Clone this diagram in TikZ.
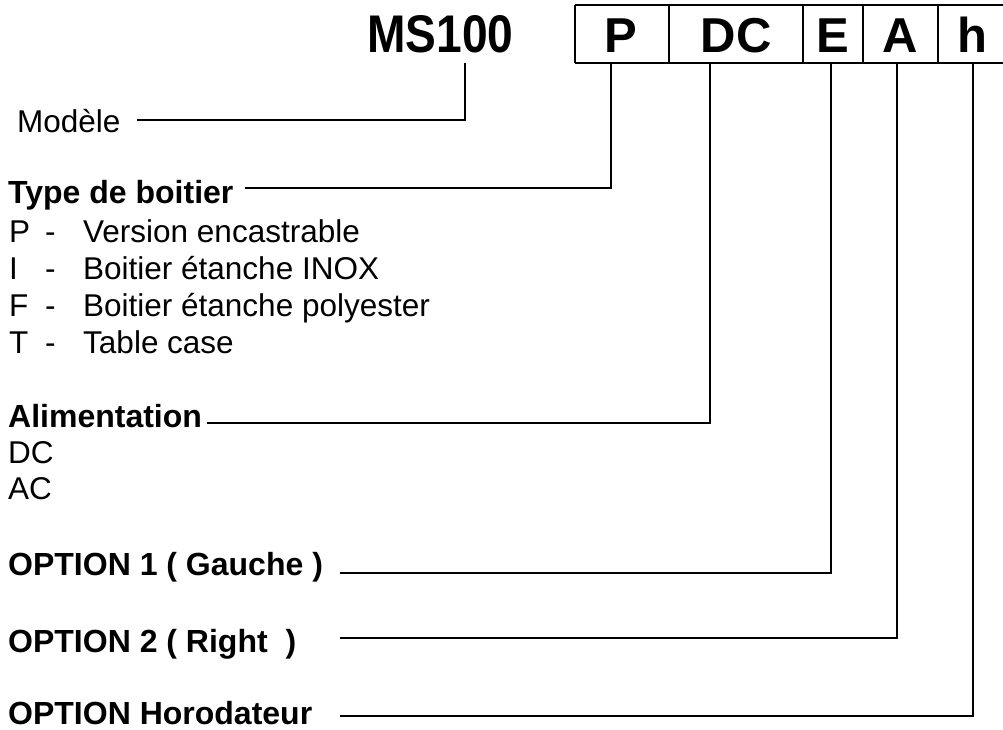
\documentclass[tikz,border=0pt]{standalone}
\usepackage{fontspec}
\setmainfont{Liberation Sans}
\begin{document}
\begin{tikzpicture}[x=1pt,y=-1pt,
  lbl/.style={anchor=base west,inner sep=0pt,font=\fontsize{31.5}{31.5}\selectfont},
  hd/.style={anchor=base west,inner sep=0pt,font=\fontsize{32}{32}\selectfont\bfseries},
  lead/.style={line width=2pt,line join=miter},
  boxline/.style={line width=2pt},
  cell/.style={anchor=base,inner sep=0pt,font=\fontsize{49}{49}\selectfont\bfseries}]
\useasboundingbox (0,0) rectangle (1003,729);

% title and code boxes
\node[anchor=base west,inner sep=0pt,font=\fontsize{53}{53}\selectfont\bfseries] (ms) at (367,52) {\scalebox{0.87}[1]{MS100}};
\draw[boxline] (575,5) -- (1003,5);
\draw[boxline] (575,63) -- (1003,63);
\draw[boxline] (575,5) -- (575,63);
\draw[boxline] (669,5) -- (669,63);
\draw[boxline] (803,5) -- (803,63);
\draw[boxline] (863,5) -- (863,63);
\draw[boxline] (938,5) -- (938,63);
\node[cell] (cP) at (621,52) {P};
\node[cell] (cDC) at (736,52) {DC};
\node[cell] (cE) at (833,52) {E};
\node[cell] (cA) at (900,52) {A};
\node[cell] (ch) at (972,52) {h};

% tap points
\coordinate (tapM) at (465,63);
\coordinate (tapP) at (611,63);
\coordinate (tapDC) at (710,63);
\coordinate (tapE) at (831,63);
\coordinate (tapA) at (897,63);
\coordinate (taph) at (973,63);

% labels
\node[lbl] (modele) at (17,132) {Modèle};
\node[hd] (type) at (8,203) {Type de boitier};
\foreach \k/\t/\y in {P/Version encastrable/242, I/Boitier étanche INOX/279, F/Boitier étanche polyester/316, T/Table case/353}{
  \node[lbl] (key\k) at (9,\y) {\k};
  \node[lbl] (dash\k) at (45,\y) {-};
  \node[lbl] (txt\k) at (83,\y) {\t};
}
\node[hd] (alim) at (8,427) {Alimentation};
\node[lbl] (dc) at (8,463) {DC};
\node[lbl] (ac) at (8,499) {AC};
\node[hd] (opt1) at (8,575) {OPTION 1 ( Gauche )};
\node[hd] (opt2) at (8,652) {OPTION 2 ( Right\ \ )};
\node[hd] (opth) at (8,724) {OPTION Horodateur};

% line starts
\coordinate (startM) at (137,120);
\coordinate (startP) at (245,188);
\coordinate (startDC) at (207,423);
\coordinate (startE) at (340,573);
\coordinate (startA) at (340,638);
\coordinate (starth) at (340,716);

\draw[lead] (startM) -| (tapM);
\draw[lead] (startP) -| (tapP);
\draw[lead] (startDC) -| (tapDC);
\draw[lead] (startE) -| (tapE);
\draw[lead] (startA) -| (tapA);
\draw[lead] (starth) -| (taph);
\end{tikzpicture}
\end{document}
